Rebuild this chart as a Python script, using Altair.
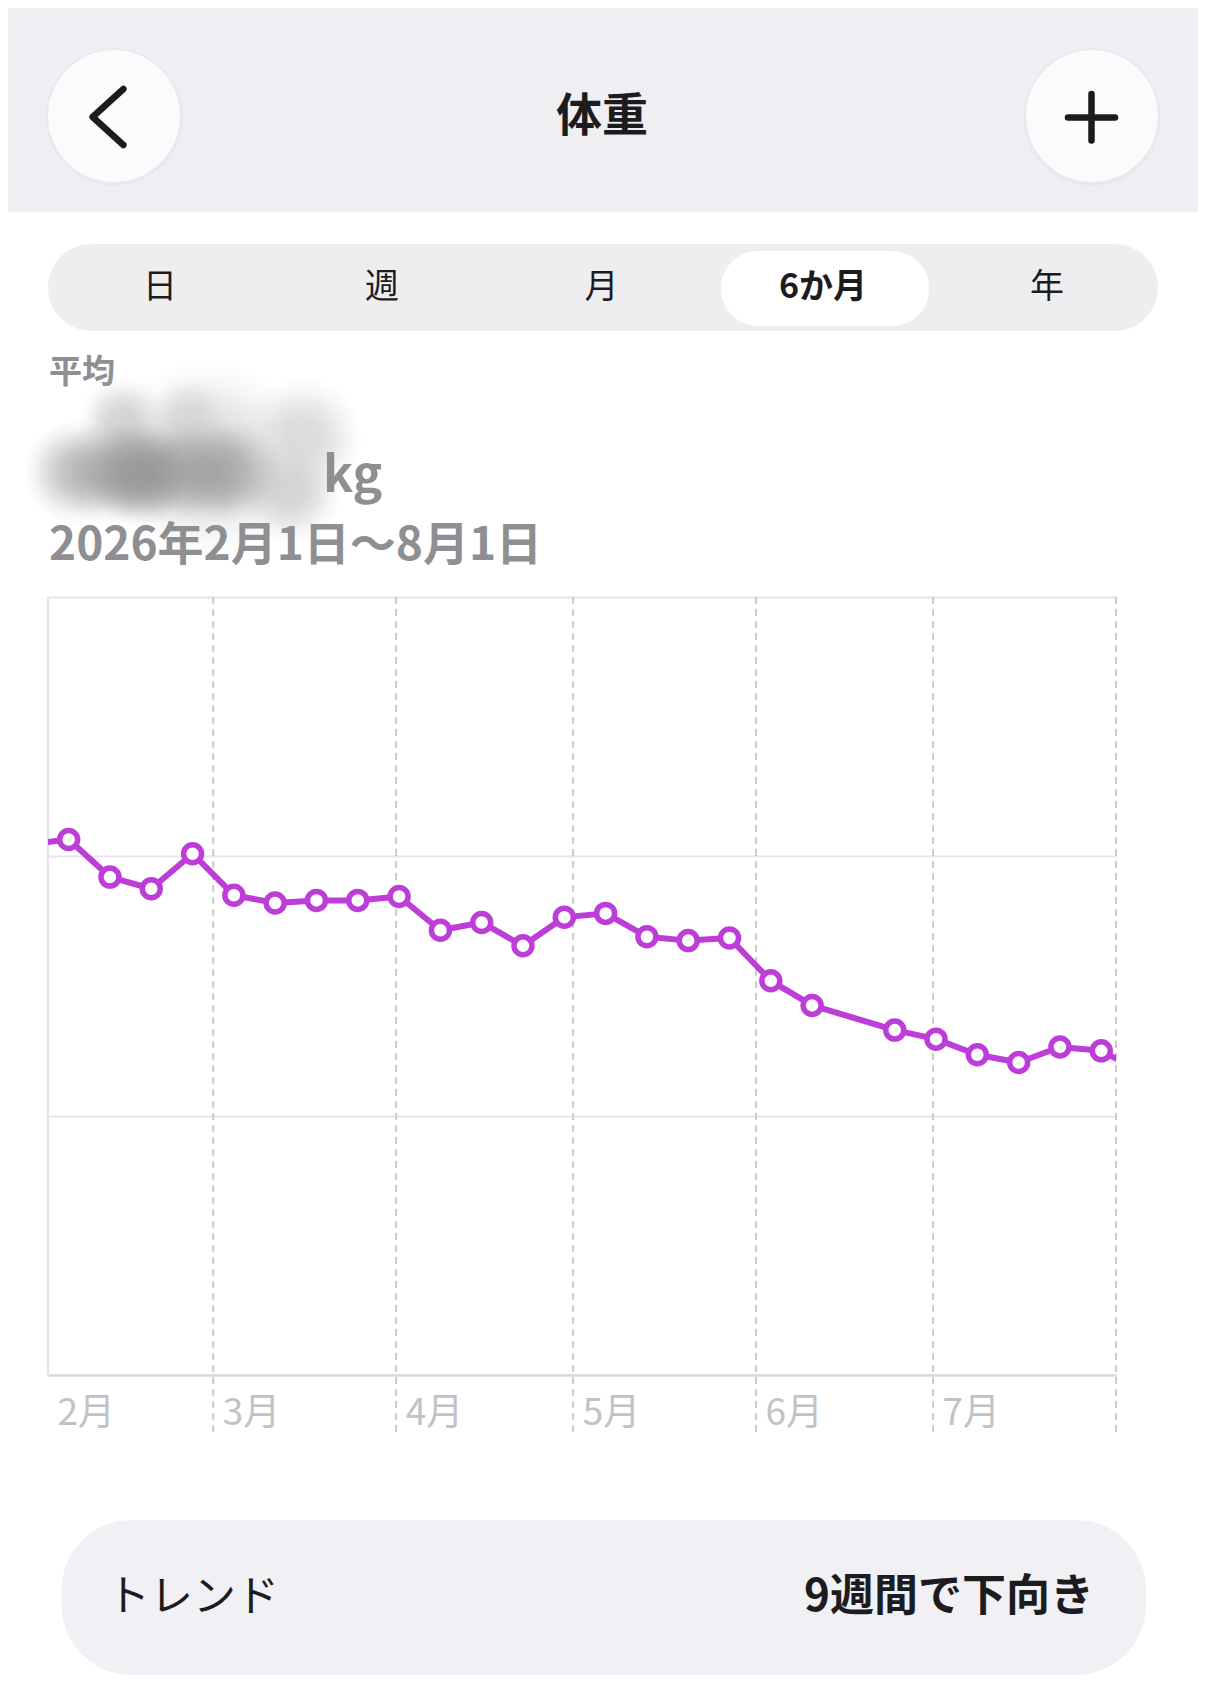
import altair as alt
import pandas as pd

# ---------------- data ----------------
week_dates = [
    "2026-01-28T12:00:00", "2026-02-04T12:00:00", "2026-02-11T12:00:00", "2026-02-18T12:00:00",
    "2026-02-25T12:00:00", "2026-03-04T12:00:00", "2026-03-11T12:00:00", "2026-03-18T12:00:00",
    "2026-03-25T12:00:00", "2026-04-01T12:00:00", "2026-04-08T12:00:00", "2026-04-15T12:00:00",
    "2026-04-22T12:00:00", "2026-04-29T12:00:00", "2026-05-06T12:00:00", "2026-05-13T12:00:00",
    "2026-05-20T12:00:00", "2026-05-27T12:00:00", "2026-06-03T12:00:00", "2026-06-10T12:00:00",
    "2026-06-24T12:00:00", "2026-07-01T12:00:00", "2026-07-08T12:00:00", "2026-07-15T12:00:00",
    "2026-07-22T12:00:00", "2026-07-29T12:00:00", "2026-08-05T12:00:00",
]
week_weights = [
    70.09, 70.13, 69.84, 69.75,
    70.02, 69.70, 69.64, 69.66,
    69.66, 69.69, 69.43, 69.49,
    69.31, 69.53, 69.56, 69.38,
    69.35, 69.37, 69.04, 68.85,
    68.66, 68.59, 68.47, 68.41,
    68.53, 68.50, 68.33,
]
month_starts = ["2026-02-01T00:00:00", "2026-03-01T00:00:00", "2026-04-01T00:00:00",
                "2026-05-01T00:00:00", "2026-06-01T00:00:00", "2026-07-01T00:00:00",
                "2026-08-01T00:00:00"]
y_domain = [66, 72]
y_grid = [68, 70, 72]

tabs = ["日", "週", "月", "6か月", "年"]
title_text = "体重"
avg_label = "平均"
unit_text = "kg"
range_text = "2026年2月1日〜8月1日"
trend_label = "トレンド"
trend_value = "9週間で下向き"

FONT = "Noto Sans CJK JP"
PURPLE = "#bc3dd8"
GRAY = "#8e8e93"
INK = "#1c1c1e"

weights_df = pd.DataFrame({"d": week_dates, "w": week_weights})
left_df = pd.DataFrame({"d": month_starts[:1]})
grid_df = pd.DataFrame({"d": month_starts[1:]})
one = pd.DataFrame({"k": [0]})

W, H = 1068, 778

def dt(s):
    y, m, d = int(s[0:4]), int(s[5:7]), int(s[8:10])
    return alt.DateTime(year=y, month=m, date=d)

x_enc = alt.X(
    "d:T",
    scale=alt.Scale(domain=[dt(month_starts[0]), dt(month_starts[-1])]),
    axis=alt.Axis(
        values=[dt(s) for s in month_starts[:-1]],
        format="%-m月",
        labelAlign="left",
        labelBaseline="middle",
        labelOffset=9,
        labelPadding=38,
        labelFont=FONT,
        labelFontSize=37,
        labelColor="#c2c2c6",
        labelFlush=False,
        labelOverlap=False,
        ticks=False,
        tickSize=0,
        grid=False,
        domainColor="#d8d8dc",
        domainWidth=2.5,
        title=None,
    ),
)
y_enc = alt.Y(
    "w:Q",
    scale=alt.Scale(domain=y_domain, nice=False, zero=False),
    axis=alt.Axis(values=y_grid, grid=True, gridColor="#e6e6e9", gridWidth=2,
                  labels=False, ticks=False, domain=False, title=None),
)

layers = []

def rect(x1, x2, y1, y2, fill, r=0):
    return alt.Chart(one).mark_rect(fill=fill, cornerRadius=r, strokeWidth=0).encode(
        x=alt.value(x1), x2=alt.value(x2), y=alt.value(y1), y2=alt.value(y2))

def text(s, x, y, size, color=INK, weight="normal", align="left", baseline="middle"):
    return alt.Chart(one).mark_text(
        font=FONT, fontSize=size, color=color, fontWeight=weight,
        align=align, baseline=baseline).encode(
        x=alt.value(x), y=alt.value(y), text=alt.value(s))

def blob(cx, cy, R, rgb, a):
    r, g, b = rgb
    stops = [(0, 1.0), (0.3, 0.92), (0.55, 0.6), (0.8, 0.2), (1, 0.0)]
    grad = alt.RadialGradient(
        gradient="radial",
        stops=[alt.GradientStop(color=f"rgba({r},{g},{b},{a * f:.3f})", offset=o) for o, f in stops],
        x1=0.5, y1=0.5, r1=0, x2=0.5, y2=0.5, r2=0.5)
    return alt.Chart(one).mark_rect(fill=grad, strokeWidth=0).encode(
        x=alt.value(cx - R), x2=alt.value(cx + R), y=alt.value(cy - R), y2=alt.value(cy + R))

# header
layers.append(rect(-40, 1150, -589, -385, "#efeff3"))
for cx in (66, 1044):
    layers.append(alt.Chart(one).mark_point(shape="circle", filled=True, fill="#e6e6ea",
                                            size=18769, opacity=0.7, strokeWidth=0)
                  .encode(x=alt.value(cx), y=alt.value(-480)))
    layers.append(alt.Chart(one).mark_point(shape="circle", filled=True, fill="#fbfbfd",
                                            size=17424, opacity=1, strokeWidth=0)
                  .encode(x=alt.value(cx), y=alt.value(-481)))
layers.append(alt.Chart(one).mark_point(shape="M 0.55 -1 L -0.55 0 L 0.55 1", filled=False,
                                        stroke=INK, strokeWidth=6.5, strokeCap="round",
                                        strokeJoin="round", size=3136, opacity=1)
              .encode(x=alt.value(60), y=alt.value(-480)))
layers.append(alt.Chart(one).mark_rule(color=INK, strokeWidth=6.5, strokeCap="round").encode(
    x=alt.value(1020), x2=alt.value(1067), y=alt.value(-479.5)))
layers.append(alt.Chart(one).mark_rule(color=INK, strokeWidth=6.5, strokeCap="round").encode(
    x=alt.value(1043.5), y=alt.value(-503), y2=alt.value(-456.5)))
layers.append(text(title_text, 554, -480, 46, weight="bold", align="center"))

# segmented control
layers.append(rect(0, 1110, -353, -266, "#eeeef0", r=43.5))
layers.append(rect(673, 881, -346, -271, "#ffffff", r=37))
for s, cx in zip(tabs, [112, 334, 553.5, 775, 999]):
    layers.append(text(s, cx, -309, 34, weight="bold" if s == "6か月" else "normal", align="center"))

# summary (blurred value)
layers.append(text(avg_label, 1, -224, 33, color=GRAY, weight="bold"))
layers.append(blob(160, -138, 100, (212, 212, 212), 0.85))
layers.append(blob(255, -160, 60, (215, 215, 215), 0.9))
layers.append(blob(242, -105, 52, (205, 205, 205), 0.85))
layers.append(blob(75, -175, 45, (200, 200, 200), 0.8))
layers.append(blob(140, -178, 40, (208, 208, 208), 0.7))
for cx in (28, 60, 92, 124, 156, 185):
    layers.append(blob(cx, -125, 52, (150, 150, 150), 0.55))
layers.append(blob(90, -122, 52, (135, 135, 135), 0.5))
layers.append(text(unit_text, 275, -105, 50, color=GRAY, weight="bold", baseline="alphabetic"))
layers.append(text(range_text, 1, -51, 46, color=GRAY, weight="bold"))

# chart gridlines
layers.append(alt.Chart(grid_df).mark_rule(color="#cbcbcf", strokeWidth=2, strokeDash=[7, 5]).encode(
    x=x_enc, y=alt.value(0), y2=alt.value(838)))
layers.append(alt.Chart(left_df).mark_rule(color="#e4e4e8", strokeWidth=2).encode(
    x=x_enc, y=alt.value(0), y2=alt.value(H)))

# data
base = alt.Chart(weights_df)
layers.append(base.mark_line(color=PURPLE, strokeWidth=6, clip=True, strokeJoin="round")
              .encode(x=x_enc, y=y_enc))
layers.append(base.mark_point(shape="circle", filled=True, fill="#ffffff", stroke=PURPLE,
                              strokeWidth=5.5, size=324, opacity=1, clip=True)
              .encode(x=x_enc, y=y_enc))

# trend pill
layers.append(rect(13.5, 1098, 923, 1078, "#f1f1f5", r=70))
layers.append(text(trend_label, 59, 1001, 43))
layers.append(text(trend_value, 1046, 1001, 44, weight="bold", align="right"))

chart = alt.layer(*layers).properties(
    width=W, height=H,
    padding={"left": 40, "top": 589, "right": 82, "bottom": 319},
    autosize=alt.AutoSizeParams(type="none"),
    background="#ffffff",
).configure_view(stroke=None)

chart.save("out.html", embed_options={"renderer": "svg", "actions": False})
